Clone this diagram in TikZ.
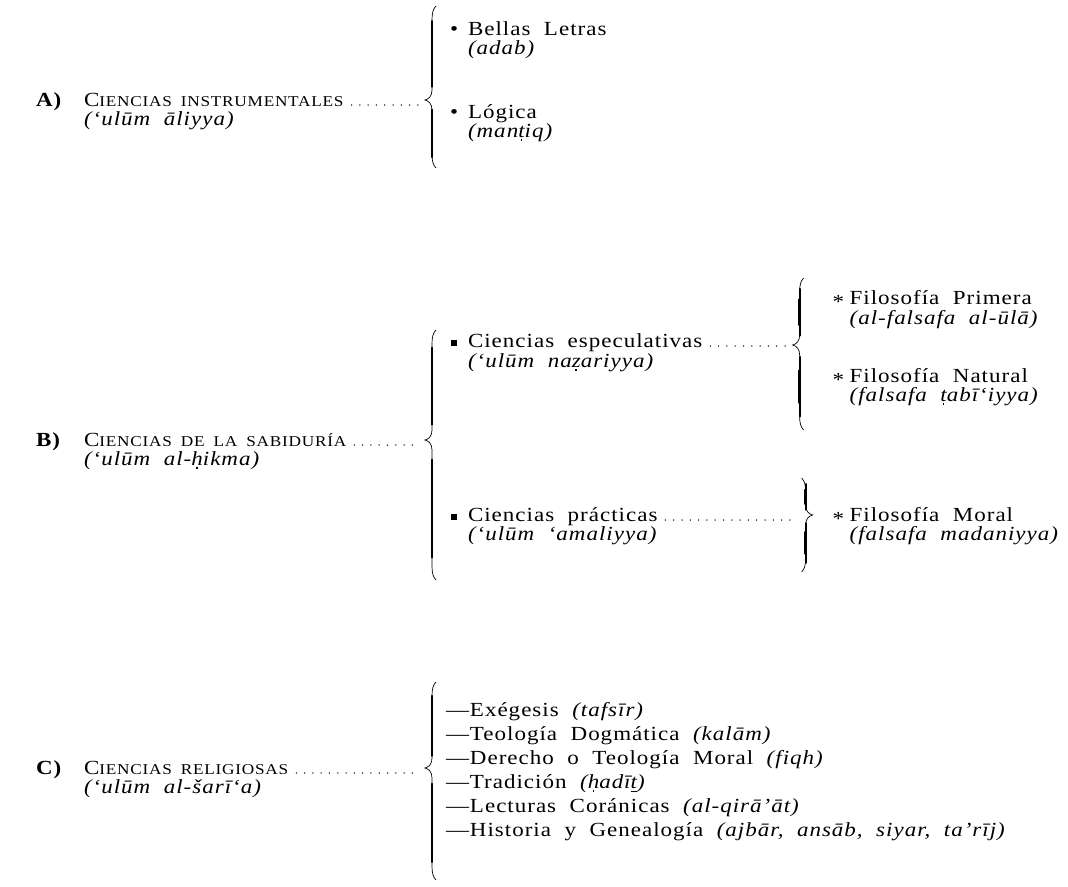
\documentclass[tikz,border=0pt]{standalone}
\usepackage{fontspec}
\setmainfont{Liberation Serif}[FakeStretch=1.15,LetterSpace=5,WordSpace=2]
\newfontfamily\scfam{Liberation Serif}[FakeStretch=1.15,LetterSpace=5]
\usetikzlibrary{calc}
\newdimen\rcdim
\newcommand{\ud}[1]{{\oalign{#1\crcr\hidewidth\rule{1.7pt}{1.7pt}\hidewidth}}}
\newcommand{\ubar}[1]{{\oalign{#1\crcr\hidewidth\rule{0.32em}{0.05em}\hidewidth}}}
\newcommand{\fsz}{\fontsize{20}{24}\selectfont}
\newcommand{\scsz}{\scfam\fontsize{15}{17}\selectfont}
\newcommand{\wg}{\hspace{0.6em}}
\newcommand{\brc}[5]{%
 \pgfmathsetmacro\bU{#3-#2}\pgfmathsetmacro\bL{#4-#3}%
 \draw[line width=0.7pt] ({#1+4*(#5)},{#2}) .. controls ({#1+1*(#5)},{#2+3}) and ({#1},{#2+7}) .. ({#1},{#2+14}) -- ({#1},{#3-10}) .. controls ({#1},{#3-4}) and ({#1-3*(#5)},{#3-1}) .. ({#1-7*(#5)},{#3}) .. controls ({#1-3*(#5)},{#3+1}) and ({#1},{#3+4}) .. ({#1},{#3+10}) -- ({#1},{#4-14}) .. controls ({#1},{#4-7}) and ({#1+1*(#5)},{#4-3}) .. ({#1+4*(#5)},{#4});
 \draw[line width=1.7pt,line cap=round] ({#1},{#2+0.16*\bU}) -- ({#1},{#3-0.14*\bU}) ({#1},{#3+0.14*\bL}) -- ({#1},{#4-0.16*\bL});
 \draw[line width=2.7pt,line cap=round] ({#1},{#2+0.32*\bU}) -- ({#1},{#3-0.3*\bU}) ({#1},{#3+0.3*\bL}) -- ({#1},{#4-0.32*\bL});
}
\begin{document}
\begin{tikzpicture}[x=1pt,y=-1pt,
  every node/.style={inner sep=0pt,outer sep=0pt,text height=13pt,text depth=4pt},
  main/.style={anchor=base west,font=\fsz},
  ital/.style={anchor=base west,font=\fsz\itshape},
  lead/.style={line width=1.5pt,line cap=round,dash pattern=on 0pt off 8.3pt}]
\fill[white] (0,0) rectangle (1068,886);
\useasboundingbox (0,0) rectangle (1068,886);

% ---------- right column (its widest line ends near the right edge)
\node[ital,anchor=base east] (rMad) at (1058,540) {(falsafa madaniyya)};
\pgfextractx{\rcdim}{\pgfpointanchor{rMad}{base west}}
\pgfmathsetmacro\rcx{\rcdim}
\pgfmathsetmacro\bsx{\rcx-50}
\pgfmathsetmacro\bsy{\rcx-44}

% ---------- A
\node[main] (lA0) at (36,106) {\bfseries A)};
\node[main] (lA) at (84,106) {C{\scsz IENCIAS\wg INSTRUMENTALES}};
\node[ital] (lAi) at (84,125) {(‘ulūm āliyya)};
\brc{432}{6}{100}{168}{1}
\coordinate (tA) at (425,100);
\draw[lead] ($(lA.base east)+(8,-1)$) -- ($(tA |- lA.base)+(-5,-1)$);
\node[main] (bu1) at (450,35) {•};
\node[main] (aBel) at (468,35) {Bellas Letras};
\node[ital] (aAda) at (468,54) {(adab)};
\node[main] (bu2) at (450,118) {•};
\node[main] (aLog) at (468,118) {Lógica};
\node[ital] (aMan) at (468,137) {(man\ud{t}iq)};

% ---------- B
\node[main] (lB0) at (36,446) {\bfseries B)};
\node[main] (lB) at (84,446) {C{\scsz IENCIAS\wg DE\wg LA\wg SABIDURÍA}};
\node[ital] (lBi) at (84,465) {(‘ulūm al-\ud{h}ikma)};
\brc{432}{330}{440}{580}{1}
\coordinate (tB) at (425,440);
\draw[lead] ($(lB.base east)+(8,-1)$) -- ($(tB |- lB.base)+(-5,-1)$);

\node[main] (sq1) at (451,347) {\rule[1pt]{6pt}{6pt}};
\node[main] (cEsp) at (468,347) {Ciencias especulativas};
\node[ital] (cEspi) at (468,367) {(‘ulūm na\ud{z}ariyya)};
\node[main] (sq2) at (451,521) {\rule[1pt]{6pt}{6pt}};
\node[main] (cPra) at (468,521) {Ciencias prácticas};
\node[ital] (cPrai) at (468,540) {(‘ulūm ‘amaliyya)};

\brc{\bsx}{278}{345}{430}{1}
\coordinate (tB1) at ({\bsx-7},345);
\draw[lead] ($(cEsp.base east)+(8,-1)$) -- ($(tB1 |- cEsp.base)+(-4,-1)$);
\brc{\bsy}{478}{515}{572}{-1}
\coordinate (tB2) at ({\bsy},515);
\draw[lead] ($(cPra.base east)+(8,-1)$) -- ($(tB2 |- cPra.base)+(-8,-1)$);

\node[main] (st1) at ({\rcx-17},308) {*};
\node[main] (rPri) at (\rcx,304) {Filosofía Primera};
\node[ital] (rPrii) at (\rcx,324) {(al-falsafa al-ūlā)};
\node[main] (st2) at ({\rcx-17},386) {*};
\node[main] (rNat) at (\rcx,382) {Filosofía Natural};
\node[ital] (rNati) at (\rcx,401) {(falsafa \ud{t}abī‘iyya)};
\node[main] (st3) at ({\rcx-17},525) {*};
\node[main] (rMor) at (\rcx,521) {Filosofía Moral};

% ---------- C
\node[main] (lC0) at (36,774) {\bfseries C)};
\node[main] (lC) at (84,774) {C{\scsz IENCIAS\wg RELIGIOSAS}};
\node[ital] (lCi) at (84,793) {(‘ulūm al-šarī‘a)};
\brc{432}{682}{768}{880}{1}
\coordinate (tC) at (425,768);
\draw[lead] ($(lC.base east)+(8,-1)$) -- ($(tC |- lC.base)+(-5,-1)$);
\node[main] (c1) at (446,716) {—Exégesis \textit{(tafsīr)}};
\node[main] (c2) at (446,740) {—Teología Dogmática \textit{(kalām)}};
\node[main] (c3) at (446,764) {—Derecho o Teología Moral \textit{(fiqh)}};
\node[main] (c4) at (446,788) {—Tradición \textit{(\ud{h}adī\ubar{t})}};
\node[main] (c5) at (446,812) {—Lecturas Coránicas \textit{(al-qirā’āt)}};
\node[main] (c6) at (446,836) {—Historia y Genealogía \textit{(ajbār, ansāb, siyar, ta’rīj)}};
\end{tikzpicture}
\end{document}
